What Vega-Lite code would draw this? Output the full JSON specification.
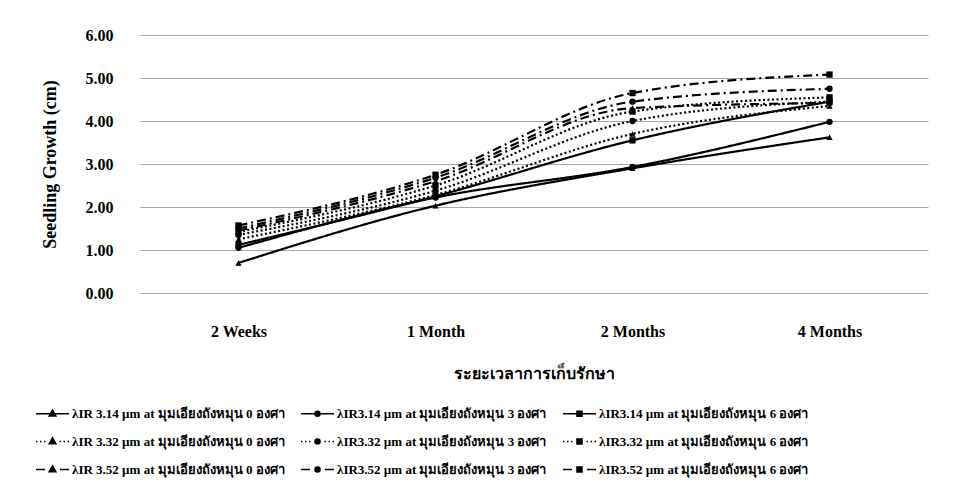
{
  "$schema": "https://vega.github.io/schema/vega-lite/v6.json",
  "width": 788,
  "height": 258,
  "autosize": {"type": "none"},
  "padding": {"left": 140, "top": 35, "right": 30, "bottom": 197},
  "background": "white",
  "config": {
    "view": {"stroke": null},
    "font": "Liberation Serif"
  },
  "data": {
    "values": [
      {"series": "λIR 3.14 µm at มุมเอียงถังหมุน 0 องศา", "wl": "3.14", "angle": "0", "time": "2 Weeks", "value": 0.70},
      {"series": "λIR 3.14 µm at มุมเอียงถังหมุน 0 องศา", "wl": "3.14", "angle": "0", "time": "1 Month", "value": 2.03},
      {"series": "λIR 3.14 µm at มุมเอียงถังหมุน 0 องศา", "wl": "3.14", "angle": "0", "time": "2 Months", "value": 2.90},
      {"series": "λIR 3.14 µm at มุมเอียงถังหมุน 0 องศา", "wl": "3.14", "angle": "0", "time": "4 Months", "value": 3.62},
      {"series": "λIR3.14 µm at มุมเอียงถังหมุน 3 องศา", "wl": "3.14", "angle": "3", "time": "2 Weeks", "value": 1.05},
      {"series": "λIR3.14 µm at มุมเอียงถังหมุน 3 องศา", "wl": "3.14", "angle": "3", "time": "1 Month", "value": 2.22},
      {"series": "λIR3.14 µm at มุมเอียงถังหมุน 3 องศา", "wl": "3.14", "angle": "3", "time": "2 Months", "value": 2.93},
      {"series": "λIR3.14 µm at มุมเอียงถังหมุน 3 องศา", "wl": "3.14", "angle": "3", "time": "4 Months", "value": 3.98},
      {"series": "λIR3.14 µm at มุมเอียงถังหมุน 6 องศา", "wl": "3.14", "angle": "6", "time": "2 Weeks", "value": 1.12},
      {"series": "λIR3.14 µm at มุมเอียงถังหมุน 6 องศา", "wl": "3.14", "angle": "6", "time": "1 Month", "value": 2.25},
      {"series": "λIR3.14 µm at มุมเอียงถังหมุน 6 องศา", "wl": "3.14", "angle": "6", "time": "2 Months", "value": 3.55},
      {"series": "λIR3.14 µm at มุมเอียงถังหมุน 6 องศา", "wl": "3.14", "angle": "6", "time": "4 Months", "value": 4.45},
      {"series": "λIR 3.32 µm at มุมเอียงถังหมุน 0 องศา", "wl": "3.32", "angle": "0", "time": "2 Weeks", "value": 1.25},
      {"series": "λIR 3.32 µm at มุมเอียงถังหมุน 0 องศา", "wl": "3.32", "angle": "0", "time": "1 Month", "value": 2.28},
      {"series": "λIR 3.32 µm at มุมเอียงถังหมุน 0 องศา", "wl": "3.32", "angle": "0", "time": "2 Months", "value": 3.70},
      {"series": "λIR 3.32 µm at มุมเอียงถังหมุน 0 องศา", "wl": "3.32", "angle": "0", "time": "4 Months", "value": 4.35},
      {"series": "λIR3.32 µm at มุมเอียงถังหมุน 3 องศา", "wl": "3.32", "angle": "3", "time": "2 Weeks", "value": 1.35},
      {"series": "λIR3.32 µm at มุมเอียงถังหมุน 3 องศา", "wl": "3.32", "angle": "3", "time": "1 Month", "value": 2.38},
      {"series": "λIR3.32 µm at มุมเอียงถังหมุน 3 องศา", "wl": "3.32", "angle": "3", "time": "2 Months", "value": 4.00},
      {"series": "λIR3.32 µm at มุมเอียงถังหมุน 3 องศา", "wl": "3.32", "angle": "3", "time": "4 Months", "value": 4.45},
      {"series": "λIR3.32 µm at มุมเอียงถังหมุน 6 องศา", "wl": "3.32", "angle": "6", "time": "2 Weeks", "value": 1.42},
      {"series": "λIR3.32 µm at มุมเอียงถังหมุน 6 องศา", "wl": "3.32", "angle": "6", "time": "1 Month", "value": 2.50},
      {"series": "λIR3.32 µm at มุมเอียงถังหมุน 6 องศา", "wl": "3.32", "angle": "6", "time": "2 Months", "value": 4.22},
      {"series": "λIR3.32 µm at มุมเอียงถังหมุน 6 องศา", "wl": "3.32", "angle": "6", "time": "4 Months", "value": 4.55},
      {"series": "λIR 3.52 µm at มุมเอียงถังหมุน 0 องศา", "wl": "3.52", "angle": "0", "time": "2 Weeks", "value": 1.45},
      {"series": "λIR 3.52 µm at มุมเอียงถังหมุน 0 องศา", "wl": "3.52", "angle": "0", "time": "1 Month", "value": 2.60},
      {"series": "λIR 3.52 µm at มุมเอียงถังหมุน 0 องศา", "wl": "3.52", "angle": "0", "time": "2 Months", "value": 4.30},
      {"series": "λIR 3.52 µm at มุมเอียงถังหมุน 0 องศา", "wl": "3.52", "angle": "0", "time": "4 Months", "value": 4.42},
      {"series": "λIR3.52 µm at มุมเอียงถังหมุน 3 องศา", "wl": "3.52", "angle": "3", "time": "2 Weeks", "value": 1.50},
      {"series": "λIR3.52 µm at มุมเอียงถังหมุน 3 องศา", "wl": "3.52", "angle": "3", "time": "1 Month", "value": 2.68},
      {"series": "λIR3.52 µm at มุมเอียงถังหมุน 3 องศา", "wl": "3.52", "angle": "3", "time": "2 Months", "value": 4.45},
      {"series": "λIR3.52 µm at มุมเอียงถังหมุน 3 องศา", "wl": "3.52", "angle": "3", "time": "4 Months", "value": 4.75},
      {"series": "λIR3.52 µm at มุมเอียงถังหมุน 6 องศา", "wl": "3.52", "angle": "6", "time": "2 Weeks", "value": 1.57},
      {"series": "λIR3.52 µm at มุมเอียงถังหมุน 6 องศา", "wl": "3.52", "angle": "6", "time": "1 Month", "value": 2.75},
      {"series": "λIR3.52 µm at มุมเอียงถังหมุน 6 องศา", "wl": "3.52", "angle": "6", "time": "2 Months", "value": 4.65},
      {"series": "λIR3.52 µm at มุมเอียงถังหมุน 6 องศา", "wl": "3.52", "angle": "6", "time": "4 Months", "value": 5.08}
    ]
  },
  "encoding": {
    "x": {
      "field": "time",
      "type": "nominal",
      "sort": ["2 Weeks", "1 Month", "2 Months", "4 Months"],
      "axis": {
        "labelAngle": 0,
        "domain": false,
        "ticks": false,
        "grid": false,
        "labelPadding": 30,
        "labelFont": "Liberation Serif",
        "labelFontWeight": "bold",
        "labelFontSize": 16,
        "labelColor": "black",
        "title": "ระยะเวลาการเก็บรักษา",
        "titleFont": "Liberation Serif",
        "titleFontWeight": "bold",
        "titleFontSize": 16,
        "titleColor": "black",
        "titlePadding": 26
      }
    },
    "y": {
      "field": "value",
      "type": "quantitative",
      "scale": {"domain": [0, 6], "nice": false},
      "axis": {
        "values": [0, 1, 2, 3, 4, 5, 6],
        "format": ".2f",
        "domain": false,
        "ticks": false,
        "gridColor": "#a8a8a8",
        "gridWidth": 1,
        "labelPadding": 27,
        "labelFont": "Liberation Serif",
        "labelFontWeight": "bold",
        "labelFontSize": 16,
        "labelColor": "black",
        "title": "Seedling Growth (cm)",
        "titleFont": "Liberation Serif",
        "titleFontWeight": "bold",
        "titleFontSize": 18,
        "titleColor": "black",
        "titlePadding": 26
      }
    }
  },
  "layer": [
    {
      "mark": {"type": "line", "interpolate": "monotone", "strokeWidth": 2.2},
      "encoding": {
        "detail": {"field": "series"},
        "color": {
          "field": "series",
          "type": "nominal",
          "scale": {
            "domain": [
              "λIR 3.14 µm at มุมเอียงถังหมุน 0 องศา",
              "λIR3.14 µm at มุมเอียงถังหมุน 3 องศา",
              "λIR3.14 µm at มุมเอียงถังหมุน 6 องศา",
              "λIR 3.32 µm at มุมเอียงถังหมุน 0 องศา",
              "λIR3.32 µm at มุมเอียงถังหมุน 3 องศา",
              "λIR3.32 µm at มุมเอียงถังหมุน 6 องศา",
              "λIR 3.52 µm at มุมเอียงถังหมุน 0 องศา",
              "λIR3.52 µm at มุมเอียงถังหมุน 3 องศา",
              "λIR3.52 µm at มุมเอียงถังหมุน 6 องศา"
            ],
            "range": ["black", "black", "black", "black", "black", "black", "black", "black", "black"]
          },
          "legend": {
            "title": null,
            "orient": "none",
            "direction": "horizontal",
            "legendX": -94,
            "legendY": 372,
            "columns": 3,
            "columnPadding": 12,
            "rowPadding": 13,
            "padding": 0,
            "labelFont": "Liberation Serif",
            "labelFontWeight": "bold",
            "labelFontSize": 13,
            "labelColor": "black",
            "labelLimit": 0,
            "labelOffset": 13,
            "symbolSize": 100,
            "encode": {
              "symbols": {
                "update": {
                  "shape": {"signal": "(indexof(datum.value,'3.14')>=0 ? 'M-3.3,0L3.3,0' : indexof(datum.value,'3.32')>=0 ? 'M-3.3,0L-3.0,0M-2.5,0L-2.2,0M-1.7,0L-1.4,0M1.4,0L1.7,0M2.2,0L2.5,0M3.0,0L3.3,0' : 'M-3.3,0L-1.5,0M1.5,0L3.3,0') + (indexof(datum.value,'หมุน 0')>=0 ? 'M0,-0.7L0.65,0.45L-0.65,0.45Z' : indexof(datum.value,'หมุน 3')>=0 ? 'M0.5,0A0.5,0.5,0,1,1,-0.5,0A0.5,0.5,0,1,1,0.5,0Z' : 'M-0.5,-0.5L0.5,-0.5L0.5,0.5L-0.5,0.5Z')"},
                  "fill": {"value": "black"},
                  "stroke": {"value": "black"},
                  "strokeWidth": {"value": 1.6},
                  "strokeDash": {"value": []},
                  "opacity": {"value": 1},
                  "size": {"value": 100}
                }
              }
            }
          }
        },
        "strokeDash": {
          "field": "wl",
          "type": "nominal",
          "scale": {"domain": ["3.14", "3.32", "3.52"], "range": [[1, 0], [2, 2.5], [9, 4, 2, 4]]},
          "legend": null
        }
      }
    },
    {
      "mark": {"type": "point", "filled": true, "color": "black", "opacity": 1, "size": 40},
      "encoding": {
        "shape": {
          "field": "angle",
          "type": "nominal",
          "scale": {"domain": ["0", "3", "6"], "range": ["triangle-up", "circle", "square"]},
          "legend": null
        }
      }
    }
  ]
}
